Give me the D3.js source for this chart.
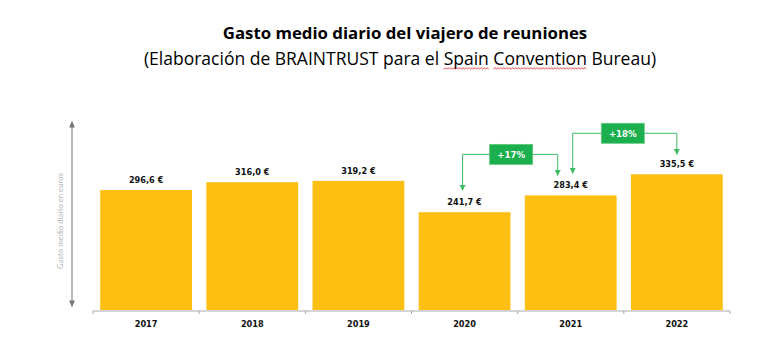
<!DOCTYPE html>
<html><head><meta charset="utf-8">
<script src="https://cdn.jsdelivr.net/npm/d3@7"></script>
<style>body{margin:0;background:#fff}svg{display:block}</style>
</head><body>
<svg id="c" width="772" height="346"></svg>
<script>
const years = ["2017","2018","2019","2020","2021","2022"];
const values = [296.6, 316.0, 319.2, 241.7, 283.4, 335.5];
const valueLabels = ["296,6 €","316,0 €","319,2 €","241,7 €","283,4 €","335,5 €"];
const changes = [{from:"2020", to:"2021", label:"+17%"}, {from:"2021", to:"2022", label:"+18%"}];
const title = "Gasto medio diario del viajero de reuniones";
const subtitle = ["(Elaboración de BRAINTRUST para el ", "Spain", " ", "Convention", " Bureau)"];
const yLabel = "Gasto medio diario en euros";

const svg = d3.select("#c");
const x = d3.scaleBand().domain(years).range([93, 730]).paddingInner(0.135).paddingOuter(0.068);
const y = d3.scaleLinear().domain([0, 400]).range([310, 148.2]);
const barColor = "#FEBF13", green = "#1BAF4D", lineGreen = "#3DBA63";
const boldFont = "'DejaVu Sans', sans-serif";

// title
svg.append("text").attr("x", 405).attr("y", 39).attr("text-anchor","middle")
  .attr("font-family","'Open Sans', sans-serif").attr("font-weight",700).attr("font-size",16.8)
  .attr("fill","#000").text(title);
const sub = svg.append("text").attr("x", 400).attr("y", 65).attr("text-anchor","middle")
  .attr("font-family","'Open Sans', sans-serif").attr("font-size",17.5).attr("fill","#000");
subtitle.forEach(s => sub.append("tspan").text(s));
// spell-check squiggles under "Spain" and "Convention"
const subNode = sub.node();
[1,3].forEach(i => {
  let start = 0; for (let k=0;k<i;k++) start += subtitle[k].length;
  const p0 = subNode.getStartPositionOfChar(start).x;
  const p1 = subNode.getEndPositionOfChar(start + subtitle[i].length - 1).x;
  let d = `M${p0},69`; let up = true;
  for (let xx = p0 + 1.5; xx <= p1; xx += 1.5) { d += `L${xx},${up?67.8:69}`; up = !up; }
  svg.append("path").attr("d", d).attr("fill","none").attr("stroke","#e02020").attr("stroke-width",0.8);
});

// y axis arrow
svg.append("defs").html(`<marker id="ah" viewBox="0 0 10 10" refX="5" refY="5" markerWidth="6" markerHeight="6" orient="auto-start-reverse"><path d="M0,1L10,5L0,9z" fill="#777"/></marker>
<marker id="ga" viewBox="0 0 10 10" refX="9" refY="5" markerWidth="6" markerHeight="6" orient="auto"><path d="M0,0L10,5L0,10z" fill="${lineGreen}"/></marker>`);
svg.append("line").attr("x1",72).attr("x2",72).attr("y1",124).attr("y2",304)
  .attr("stroke","#888").attr("stroke-width",1.2)
  .attr("marker-start","url(#ah)").attr("marker-end","url(#ah)");
svg.append("text").attr("transform","translate(63,221) rotate(-90)").attr("text-anchor","middle")
  .attr("font-family","Lato, sans-serif").attr("font-size",7.8).attr("fill","#b5b5b5").text(yLabel);

// bars
svg.selectAll("rect.bar").data(years).join("rect").attr("class","bar")
  .attr("x", d => x(d)).attr("width", x.bandwidth())
  .attr("y", (d,i) => y(values[i])).attr("height", (d,i) => y(0) - y(values[i]))
  .attr("fill", barColor);

// value labels
svg.selectAll("text.val").data(years).join("text").attr("class","val")
  .attr("x", d => x(d) + x.bandwidth()/2).attr("y", (d,i) => y(values[i]) - 7)
  .attr("text-anchor","middle").attr("font-family",boldFont).attr("font-weight",700)
  .attr("font-size",8.2).attr("fill","#111").text((d,i) => valueLabels[i]);

// x axis
const xa = svg.append("g");
xa.append("line").attr("x1",93).attr("x2",730).attr("y1",311).attr("y2",311).attr("stroke","#aaa").attr("stroke-width",1);
const bounds = years.map(d => x(d) - x.step()*x.paddingInner()/2).concat([730]);
bounds[0] = 93;
xa.selectAll("line.t").data(bounds).join("line").attr("class","t")
  .attr("x1", d=>d).attr("x2", d=>d).attr("y1",311).attr("y2",314).attr("stroke","#aaa");
xa.selectAll("text").data(years).join("text")
  .attr("x", d => x(d) + x.bandwidth()/2).attr("y", 327).attr("text-anchor","middle")
  .attr("font-family",boldFont).attr("font-weight",700).attr("font-size",8.2).attr("fill","#111")
  .text(d => d);

// change annotations
const cx = d => x(d) + x.bandwidth()/2;
const vOf = d => values[years.indexOf(d)];
changes.forEach((c, k) => {
  const lx = cx(c.from) + (k===0 ? -2 : 2);
  const rx = cx(c.to) + (k===0 ? -13 : 0);
  const ly = y(Math.max(vOf(c.from), vOf(c.to))) - 41;
  const lt = y(vOf(c.from)) - 22, rt = y(vOf(c.to)) - 20;
  const mid = (lx + rx)/2 + (k===0?1:-2);
  svg.append("path").attr("d", `M${lx},${ly} L${rx},${ly} L${rx},${rt}`)
    .attr("fill","none").attr("stroke",lineGreen).attr("stroke-width",1)
    .attr("marker-end","url(#ga)");
  svg.append("path").attr("d", `M${lx},${ly} L${lx},${lt}`).attr("fill","none")
    .attr("stroke",lineGreen).attr("stroke-width",1).attr("marker-end","url(#ga)");
  svg.append("rect").attr("x", mid - 21.5).attr("y", ly - 10).attr("width", 43).attr("height", 20)
    .attr("fill", green).attr("stroke","#5fc77f").attr("stroke-width",0.8);
  svg.append("text").attr("x", mid).attr("y", ly + 3.3).attr("text-anchor","middle")
    .attr("font-family",boldFont).attr("font-weight",700).attr("font-size",8.6)
    .attr("fill","#fff").text(c.label);
});
</script>
</body></html>
